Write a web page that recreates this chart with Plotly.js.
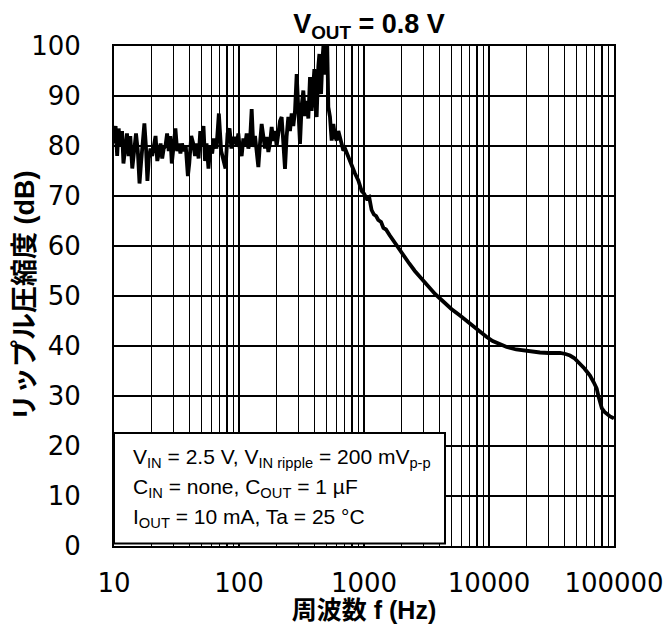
<!DOCTYPE html>
<html>
<head>
<meta charset="utf-8">
<script src="https://cdn.plot.ly/plotly-3.0.1.min.js"></script>
<style>html,body{margin:0;padding:0;background:#fff;}</style>
</head>
<body>
<div id="chart" style="width:668px;height:624px;"></div>
<script>
// Frequency (Hz)
var freqHz = [
  10.0,10.3,10.6,10.9,11.2,11.6,11.9,12.3,12.7,13.1,13.5,14.0,14.5,15.0,15.5,16.0,16.5,17.0,17.5,18.0,
  18.5,19.0,19.6,20.2,20.8,21.5,22.2,22.9,23.6,24.3,25.0,25.8,26.6,27.4,28.2,29.0,30.0,31.0,32.0,33.0,
  34.0,35.0,36.0,37.5,39.0,40.0,41.5,43.0,44.5,46.0,47.5,49.0,50.5,52.0,53.5,55.0,57.0,59.0,61.0,63.0,
  66.0,69.0,72.0,75.0,78.0,81.0,84.0,87.0,90.0,
  92.9,95.8,98.8,101.9,105.0,108.3,111.7,115.2,118.8,122.5,126.3,130.2,134.3,138.5,142.8,147.2,151.8,156.5,161.4,166.5,
  171.7,177.0,182.5,188.2,194.1,200.1,206.4,212.8,219.4,226.2,233.3,240.6,248.1,255.8,263.8,272.0,280.5,289.3,298.3,307.6,
  317.1,327.0,337.3,347.8,358.6,369.8,381.3,393.2,400.5,410.3,418.0,431.2,439.5,447.8,453.3,464.5,473.2,481.7,493.3,502.2,
  508.2,518.4,534.5,551.2,568.4,586.1,604.4,623.2,642.6,662.7,683.4,704.7,749.3,796.8,821.0,847.2,900.9,957.9,
  1000,1050,1100,1150,1200,1250,1300,1370,1430,1500,1600,1700,1880,2100,2300,2550,2805,3100,3400,3700,
  4055,4500,5000,5860,6630,7300,8000,8800,9590,10700,12000,13860,16500,20030,25590,30000,37000,41000,44460,48000,
  51000,53460,58000,61000,64270,69000,72740,75000,77250,80000,84000,87420,93000,98620,100000
];
// Ripple rejection (dB)
var rejectionDb = [
  80.5,84.0,78.0,83.5,80.0,83.0,76.5,79.5,82.5,78.0,82.0,75.5,80.0,82.5,79.0,72.5,77.0,80.5,84.5,80.0,
  73.0,77.5,79.5,78.0,80.5,82.0,77.0,79.0,80.5,77.5,79.5,80.0,82.5,79.0,82.0,76.5,80.0,83.5,79.0,80.5,
  78.5,80.5,79.0,80.0,74.0,76.5,82.0,80.5,78.0,80.5,77.5,83.0,80.0,84.0,77.0,80.5,75.5,80.0,78.5,81.5,
  79.5,86.5,79.0,77.5,75.5,82.5,83.5,79.5,81.5,
  81.5,80.0,82.5,79.0,78.0,81.5,80.0,82.5,79.5,81.0,87.4,79.8,82.0,78.5,75.8,80.5,84.4,82.0,79.5,81.8,
  78.8,80.5,83.8,81.0,83.0,80.0,82.0,85.0,85.8,80.0,75.4,82.0,85.8,83.0,86.5,84.0,87.0,94.4,85.0,80.4,
  88.0,91.1,86.0,89.0,85.5,93.8,87.0,92.0,95.4,88.0,85.8,96.0,98.4,92.0,90.4,97.0,100.0,95.0,94.4,99.0,
  100.0,87.8,85.8,81.1,84.4,82.0,81.1,83.0,81.5,80.5,79.1,79.5,77.8,76.0,75.1,74.5,73.1,71.0,
  70.5,69.5,69.8,67.2,66.3,66.0,65.2,64.8,63.6,63.3,62.2,61.2,59.8,58.0,56.5,55.0,53.8,52.5,51.4,50.4,
  49.5,48.4,47.4,46.1,45.0,44.2,43.3,42.5,41.8,41.0,40.4,39.8,39.3,39.0,38.7,38.6,38.6,38.4,38.1,37.6,
  37.0,36.5,35.5,34.8,34.1,32.7,31.5,30.0,28.5,27.5,26.8,26.4,25.9,25.6,25.5
];

var xMajorTicks = [10, 100, 1000, 10000, 100000];
var xMajorLabels = ['10', '100', '1000', '10000', '100000'];
var xMinorTicks = [20,30,40,50,60,70,80,90,200,300,400,500,600,700,800,900,
  2000,3000,4000,5000,6000,7000,8000,9000,20000,30000,40000,50000,60000,70000,80000,90000];

var chartTitle = '<b>V<sub>OUT</sub> = 0.8 V</b>';
var xTitle = '<b>周波数 f (Hz)</b>';
var yTitle = '<b>リップル圧縮度 (dB)</b>';
var conditionLines = [
  'V<sub>IN</sub> = 2.5 V, V<sub>IN ripple</sub> = 200 mV<sub>p-p</sub>',
  'C<sub>IN</sub> = none, C<sub>OUT</sub> = 1 µF',
  'I<sub>OUT</sub> = 10 mA, Ta = 25 °C'
];

var trace = {
  x: freqHz,
  y: rejectionDb,
  type: 'scatter',
  mode: 'lines',
  line: {color: 'black', width: 3.8},
  hoverinfo: 'x+y'
};

var lineY = [0.177, 0.117, 0.056];
var annotations = conditionLines.map(function (t, i) {
  return {
    text: t, xref: 'paper', yref: 'paper', x: 0.034, y: lineY[i],
    xanchor: 'left', yanchor: 'middle', showarrow: false,
    font: {family: 'Liberation Sans, Arial, sans-serif', size: 21, color: 'black'}
  };
});
annotations.push({
  text: yTitle, xref: 'paper', yref: 'paper', x: -0.178, y: 0.5,
  xanchor: 'center', yanchor: 'middle', textangle: -90, showarrow: false,
  font: {family: 'Liberation Sans, Noto Sans CJK JP, sans-serif', size: 27, color: 'black'}
});

var layout = {
  width: 668,
  height: 624,
  margin: {l: 114, r: 54, t: 46, b: 78, pad: 0},
  paper_bgcolor: 'white',
  plot_bgcolor: 'white',
  showlegend: false,
  font: {family: 'DejaVu Sans, Verdana, sans-serif', color: 'black'},
  title: {
    text: chartTitle,
    font: {family: 'Liberation Sans, Arial, sans-serif', size: 27, color: 'black'},
    xref: 'paper', x: 0.51, xanchor: 'center',
    yref: 'container', y: 0.962, yanchor: 'middle'
  },
  xaxis: {
    type: 'log',
    range: [1, 5],
    tickmode: 'array',
    tickvals: xMajorTicks,
    ticktext: xMajorLabels,
    ticks: '',
    showgrid: true,
    gridcolor: 'black',
    gridwidth: 2,
    minor: {tickmode: 'array', tickvals: xMinorTicks, showgrid: true, gridcolor: 'black', gridwidth: 1.5, ticks: ''},
    showline: true, linecolor: 'black', linewidth: 2, mirror: true,
    zeroline: false,
    tickfont: {family: 'DejaVu Sans, Verdana, sans-serif', size: 26, color: 'black'},
    ticklabelstandoff: 13,
    automargin: false,
    title: {
      text: xTitle,
      font: {family: 'Liberation Sans, Noto Sans CJK JP, sans-serif', size: 25, color: 'black'},
      standoff: 0
    }
  },
  yaxis: {
    range: [0, 100],
    tickmode: 'linear', tick0: 0, dtick: 10,
    ticks: '',
    showgrid: true, gridcolor: 'black', gridwidth: 2,
    showline: true, linecolor: 'black', linewidth: 2, mirror: true,
    zeroline: false,
    tickfont: {family: 'DejaVu Sans, Verdana, sans-serif', size: 26, color: 'black'},
    ticklabelstandoff: 26,
    automargin: false
  },
  shapes: [{
    type: 'rect', xref: 'paper', yref: 'paper',
    x0: 0, x1: 0.662, y0: 0.005, y1: 0.226,
    fillcolor: 'white', line: {color: 'black', width: 2}, layer: 'above'
  }],
  annotations: annotations
};

Plotly.newPlot('chart', [trace], layout, {displayModeBar: false, staticPlot: true});
</script>
</body>
</html>
